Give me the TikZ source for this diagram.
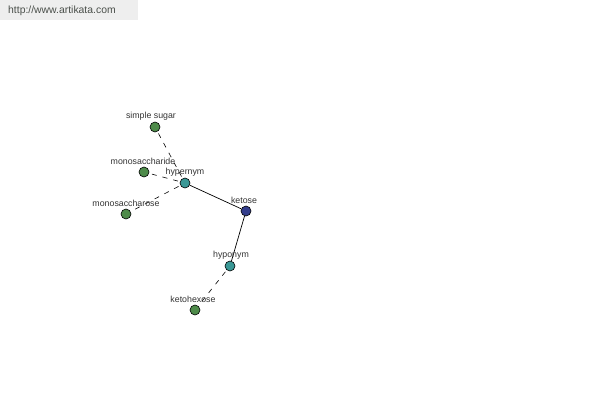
\documentclass[tikz,border=0pt]{standalone}
\usepackage{fontspec}
\setmainfont{Liberation Sans}
\definecolor{ngreen}{HTML}{4E8B4A}
\definecolor{nteal}{HTML}{3A9896}
\definecolor{nblue}{HTML}{343E8C}
\definecolor{bannerbg}{HTML}{EEEEEE}
\definecolor{bannertxt}{HTML}{4A4F4A}
\definecolor{lbl}{HTML}{333333}
\tikzset{
  dot/.style={circle,draw=black,line width=0.6pt,minimum size=10pt,inner sep=0pt},
  gdot/.style={dot,fill=ngreen},
  tdot/.style={dot,fill=nteal},
  bdot/.style={dot,fill=nblue},
  lab/.style={font=\fontsize{8.8}{9}\selectfont,text=lbl,inner sep=0pt},
  dashedge/.style={draw=black,line width=0.6pt,dash pattern=on 5pt off 6pt,shorten <=2pt,shorten >=2pt},
  solidedge/.style={draw=black,line width=0.7pt}
}
\begin{document}
\begin{tikzpicture}[x=1pt,y=-1pt]
\useasboundingbox (0,0) rectangle (600,400);
\fill[white] (0,0) rectangle (600,400);
\node[fill=bannerbg,minimum width=138pt,minimum height=20pt,anchor=north west,inner sep=0pt] (banner) at (0,0) {};
\node[anchor=west,font=\fontsize{10.4}{11}\selectfont,text=bannertxt,inner sep=0pt] (url) at (8,11) {http://www.artikata.com};
\node[gdot] (ss) at (155,127) {};
\node[gdot] (ms) at (144,172) {};
\node[tdot] (hyper) at (185,183) {};
\node[gdot] (mo) at (126,214) {};
\node[bdot] (ket) at (246,211) {};
\node[tdot] (hypo) at (230,266) {};
\node[gdot] (kh) at (195,310) {};
\draw[dashedge] (hyper) -- (ss);
\draw[dashedge] (hyper) -- (ms);
\draw[dashedge] (hyper) -- (mo);
\draw[solidedge] (hyper) -- (ket);
\draw[solidedge] (ket) -- (hypo);
\draw[dashedge] (hypo) -- (kh);
\node[lab] (lss) at (151,116) {simple sugar};
\node[lab] (lms) at (143,161) {monosaccharide};
\node[lab] (lhyper) at (185,172) {hypernym};
\node[lab] (lmo) at (126,203) {monosaccharose};
\node[lab] (lket) at (244,200) {ketose};
\node[lab] (lhypo) at (231,255) {hyponym};
\node[lab] (lkh) at (193,299) {ketohexose};
\end{tikzpicture}
\end{document}
